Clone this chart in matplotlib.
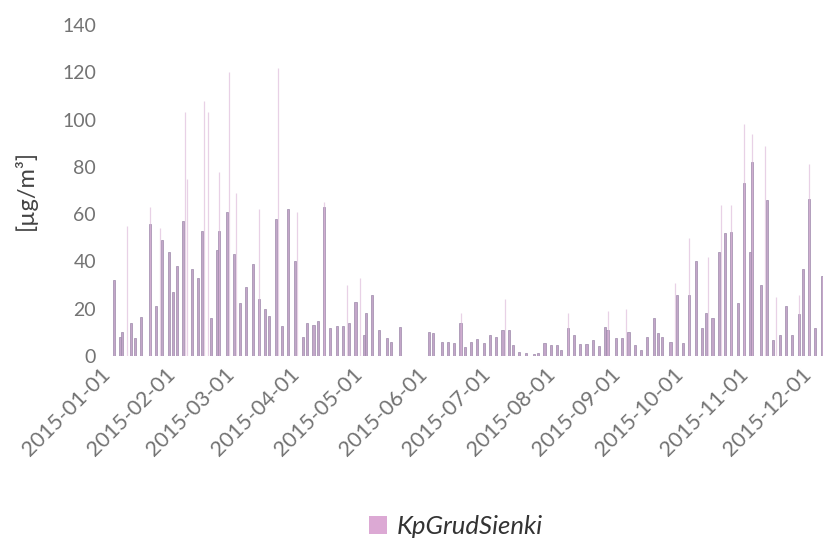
import matplotlib
matplotlib.use("Agg")
import matplotlib.pyplot as plt
import matplotlib.dates as mdates
from matplotlib.patches import Patch
import pandas as pd

plt.rcParams["font.family"] = ["Lato", "DejaVu Sans"]

# day offsets from 2015-01-01 and the values of the daily bars
bar_days = [0, 3, 4, 8, 10, 13, 17, 20, 23, 26, 28, 30, 33, 37, 40, 42, 46, 49, 50, 54,
            57, 60, 63, 66, 69, 72, 74, 77, 80, 83, 86, 90, 92, 95, 97, 100, 103, 106, 109, 112,
            115, 119, 120, 123, 126, 130, 132, 136,
            150, 152, 156, 159, 162, 165, 167, 170, 173, 176, 179, 182, 185, 188, 190, 193, 196, 200,
            202, 205, 208, 211, 213, 216, 219, 222, 225, 228, 231, 234, 235, 239, 242, 245, 248, 251,
            254, 257, 259, 261, 265, 268, 271, 274, 277, 280, 282, 285, 288, 291, 294, 297, 300, 303,
            304, 308, 311, 314, 317, 320, 323, 326, 328, 331, 334, 337]
bar_vals = [32, 8, 10, 14, 7.5, 16.6, 56, 21, 49, 44, 27, 38, 57, 37, 33, 53, 16, 45, 53, 61,
            43, 22.5, 29, 39, 24, 20, 17, 58, 12.7, 62, 40, 8, 14, 13, 15, 63, 12, 12.7, 12.7, 14,
            23, 9, 18, 26, 11, 7.5, 6, 12.4,
            10, 9.6, 6, 5.8, 5.6, 14, 3.7, 6, 7, 5.6, 9, 8, 11, 11, 4.6, 1.5, 1.1, 1,
            1.4, 5.6, 4.6, 4.6, 2.5, 11.7, 9, 5, 5, 6.7, 4.2, 12.4, 11, 7.5, 7.5, 10, 4.6, 2.5,
            8, 16, 9.6, 8, 6, 26, 5.6, 26, 40, 11.7, 18, 16, 44, 52, 52.5, 22.5, 73, 44,
            82, 30, 66, 6.7, 9, 21, 9, 17.7, 37, 66.5, 11.7, 34]

# faint thin peaks between the bars
peak_days = [6, 17, 22, 34, 35, 43, 45, 50, 55, 58, 69, 78, 87, 100, 111, 117, 165, 186, 216,
             235, 244, 267, 274, 283, 289, 294, 300, 304, 310, 315, 326, 331]
peak_vals = [55, 63, 54, 103, 75, 108, 103, 78, 120, 69, 62, 122, 61, 65, 30, 33, 18, 24, 18,
             19, 20, 31, 50, 42, 64, 64, 98, 94, 89, 25, 26, 81]

series_name = "KpGrudSienki"
y_label = "[µg/m³]"

start = pd.Timestamp("2015-01-01")
bar_dates = start + pd.to_timedelta(bar_days, unit="D")
peak_dates = start + pd.to_timedelta(peak_days, unit="D")

fig = plt.figure(figsize=(8.23, 5.41), dpi=100)
ax = fig.add_axes([110 / 823, 1 - 356 / 541, (823 - 110) / 823, (356 - 25) / 541])

ax.vlines(peak_dates, 0, peak_vals, colors="#d9b3d6", linewidth=0.9, alpha=0.6)
ax.bar(bar_dates, bar_vals, width=1.0, color="#c3a6c9", edgecolor="#9d8aaa", linewidth=0.5)

ax.set_xlim(start - pd.Timedelta(days=1.9), start + pd.Timedelta(days=337.6))
ax.set_ylim(0, 140)
ax.set_yticks(range(0, 141, 20))
ax.xaxis.set_major_locator(mdates.MonthLocator())
ax.xaxis.set_major_formatter(mdates.DateFormatter("%Y-%m-%d"))

for s in ax.spines.values():
    s.set_visible(False)
ax.tick_params(length=0, labelcolor="#737373")
ax.tick_params(axis="y", pad=10, labelsize=14)
ax.tick_params(axis="x", pad=6, labelsize=15.5)
for lbl in ax.get_xticklabels():
    lbl.set_rotation(45)
    lbl.set_ha("right")

fig.text(25 / 823, 1 - 190 / 541, y_label, rotation=90, ha="center", va="center",
         fontsize=17, color="#444444")

handle = Patch(facecolor="#dca9d4", edgecolor="none")
fig.legend([handle], [series_name], loc="center", bbox_to_anchor=(456 / 823, 1 - 526 / 541),
           frameon=False, handlelength=0.7, handleheight=0.7, handletextpad=0.4,
           prop={"size": 18.5, "style": "italic"}, labelcolor="#333333")

fig.savefig("out.png", dpi=100)
